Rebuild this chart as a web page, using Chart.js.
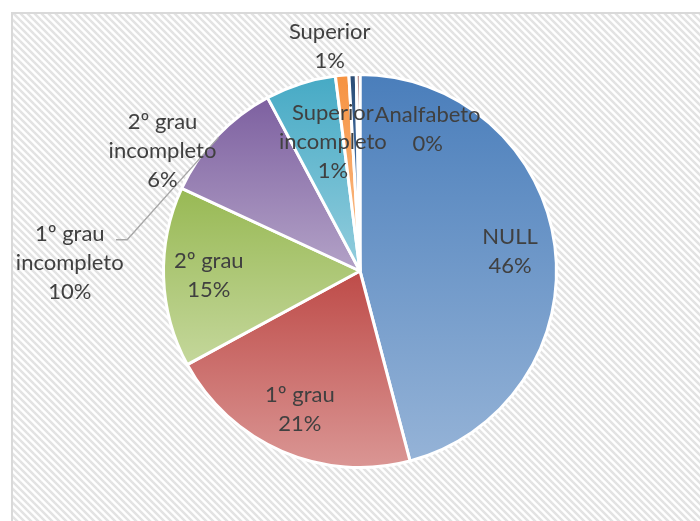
<!DOCTYPE html>
<html lang="pt">
<head>
  <meta charset="UTF-8">
  <title>Escolaridade</title>
  <script src="https://cdn.jsdelivr.net/npm/chart.js"></script>
  <style>
    html, body { margin: 0; padding: 0; background: #fff; }
    #wrap { width: 700px; height: 521px; }
  </style>
</head>
<body>
<div id="wrap"><canvas id="pieChart" width="700" height="521"></canvas></div>
<script>
  // data (percent of total)
  const categories = ['NULL', '1º grau', '2º grau', '1º grau incompleto', '2º grau incompleto',
                      'Superior incompleto', 'Superior', 'Analfabeto'];
  const values = [45.9, 21.2, 14.8, 10.3, 5.8, 1.1, 0.6, 0.3];

  // office style gradient, darker on top, lighter at the bottom
  const topColors = ['#4A7EBB', '#BE4B48', '#98B954', '#7D60A0', '#46AAC5', '#F69240', '#2C4D75', '#772C2A'];
  const bottomColors = ['#95B3D7', '#DA9694', '#C4D79B', '#B3A2C7', '#93CDDD', '#FAC090', '#558ED5', '#D99694'];

  // where each label goes: inside at a fraction of the radius, or moved by hand (units of radius)
  const labelSpots = [
    { r: 0.77 },
    { r: 0.77 },
    { r: 0.77 },
    { dx: -1.477, dy: -0.041, leader: true },
    { dx: -1.005, dy: -0.610 },
    { dx: -0.138, dy: -0.656 },
    { dx: -0.154, dy: -1.144 },
    { dx: 0.344, dy: -0.723 }
  ];

  const total = values.reduce((a, b) => a + b, 0);
  const BORDER = 3;
  const FONT = '22px Lato';
  const LINE_H = 29;

  // stripe pattern for the chart area
  function makePattern(ctx) {
    const t = document.createElement('canvas');
    t.width = 7; t.height = 7;
    const c = t.getContext('2d');
    c.fillStyle = '#ffffff';
    c.fillRect(0, 0, 7, 7);
    c.strokeStyle = '#e3e3e3';
    c.lineWidth = 2.5;
    for (const k of [-7, 0, 7]) {
      c.beginPath();
      c.moveTo(k - 1, -1);
      c.lineTo(k + 8, 8);
      c.stroke();
    }
    return ctx.createPattern(t, 'repeat');
  }

  // gradient spanning the slice's own vertical extent
  function sliceGradient(context) {
    const chart = context.chart;
    const i = context.dataIndex;
    const area = chart.chartArea;
    if (!area) return topColors[i];
    const cx = (area.left + area.right) / 2;
    const cy = (area.top + area.bottom) / 2;
    const R = (Math.min(area.right - area.left, area.bottom - area.top) - BORDER) / 2;
    let before = 0;
    for (let k = 0; k < i; k++) before += values[k];
    const a0 = -Math.PI / 2 + before / total * 2 * Math.PI;
    const a1 = a0 + values[i] / total * 2 * Math.PI;
    let ymin = cy, ymax = cy;
    for (let s = 0; s <= 40; s++) {
      const a = a0 + (a1 - a0) * s / 40;
      const y = cy + Math.sin(a) * R;
      ymin = Math.min(ymin, y);
      ymax = Math.max(ymax, y);
    }
    if (ymax - ymin < 1) ymax = ymin + 1;
    const g = chart.ctx.createLinearGradient(0, ymin, 0, ymax);
    g.addColorStop(0, topColors[i]);
    g.addColorStop(1, bottomColors[i]);
    return g;
  }

  const backgroundPlugin = {
    id: 'bgPattern',
    beforeDraw(chart) {
      const ctx = chart.ctx;
      ctx.save();
      ctx.fillStyle = '#ffffff';
      ctx.fillRect(0, 0, chart.width, chart.height);
      ctx.fillStyle = makePattern(ctx);
      ctx.fillRect(12, 13, chart.width - 12, chart.height - 13);
      ctx.strokeStyle = '#d9d9d9';
      ctx.lineWidth = 2;
      ctx.beginPath();
      ctx.moveTo(12, chart.height);
      ctx.lineTo(12, 13);
      ctx.lineTo(chart.width, 13);
      ctx.stroke();
      ctx.restore();
    }
  };

  const labelPlugin = {
    id: 'sliceLabels',
    afterDatasetsDraw(chart) {
      const ctx = chart.ctx;
      const arcs = chart.getDatasetMeta(0).data;
      ctx.save();
      ctx.font = FONT;
      ctx.fillStyle = '#404040';
      ctx.textAlign = 'center';
      ctx.textBaseline = 'middle';
      arcs.forEach((arc, i) => {
        const spot = labelSpots[i];
        const R = arc.outerRadius;
        const mid = (arc.startAngle + arc.endAngle) / 2;
        let x, y;
        if (spot.r !== undefined) {
          x = arc.x + Math.cos(mid) * R * spot.r;
          y = arc.y + Math.sin(mid) * R * spot.r;
        } else {
          x = arc.x + spot.dx * R;
          y = arc.y + spot.dy * R;
        }
        const pct = Math.round(values[i] / total * 100) + '%';
        let lines;
        if (categories[i].indexOf(' incompleto') > 0) {
          lines = [categories[i].replace(' incompleto', ''), 'incompleto', pct];
        } else {
          lines = [categories[i], pct];
        }
        if (spot.leader) {
          ctx.save();
          ctx.strokeStyle = '#a6a6a6';
          ctx.lineWidth = 1.3;
          ctx.beginPath();
          const ly = y - 0.118 * R;
          ctx.moveTo(x + 0.235 * R, ly);
          ctx.lineTo(x + 0.292 * R, ly);
          ctx.lineTo(arc.x + Math.cos(mid) * R * 0.99, arc.y + Math.sin(mid) * R * 0.99);
          ctx.stroke();
          ctx.restore();
        }
        const y0 = y - (lines.length - 1) * LINE_H / 2;
        lines.forEach((t, k) => ctx.fillText(t, x, y0 + k * LINE_H));
      });
      ctx.restore();
    }
  };

  new Chart(document.getElementById('pieChart'), {
    type: 'pie',
    data: {
      labels: categories,
      datasets: [{
        data: values,
        backgroundColor: sliceGradient,
        borderColor: '#ffffff',
        borderWidth: BORDER
      }]
    },
    options: {
      responsive: false,
      animation: false,
      layout: { padding: { left: 162, right: 142, top: 73, bottom: 52 } },
      plugins: {
        legend: { display: false },
        tooltip: { enabled: false }
      }
    },
    plugins: [backgroundPlugin, labelPlugin]
  });
</script>
</body>
</html>
